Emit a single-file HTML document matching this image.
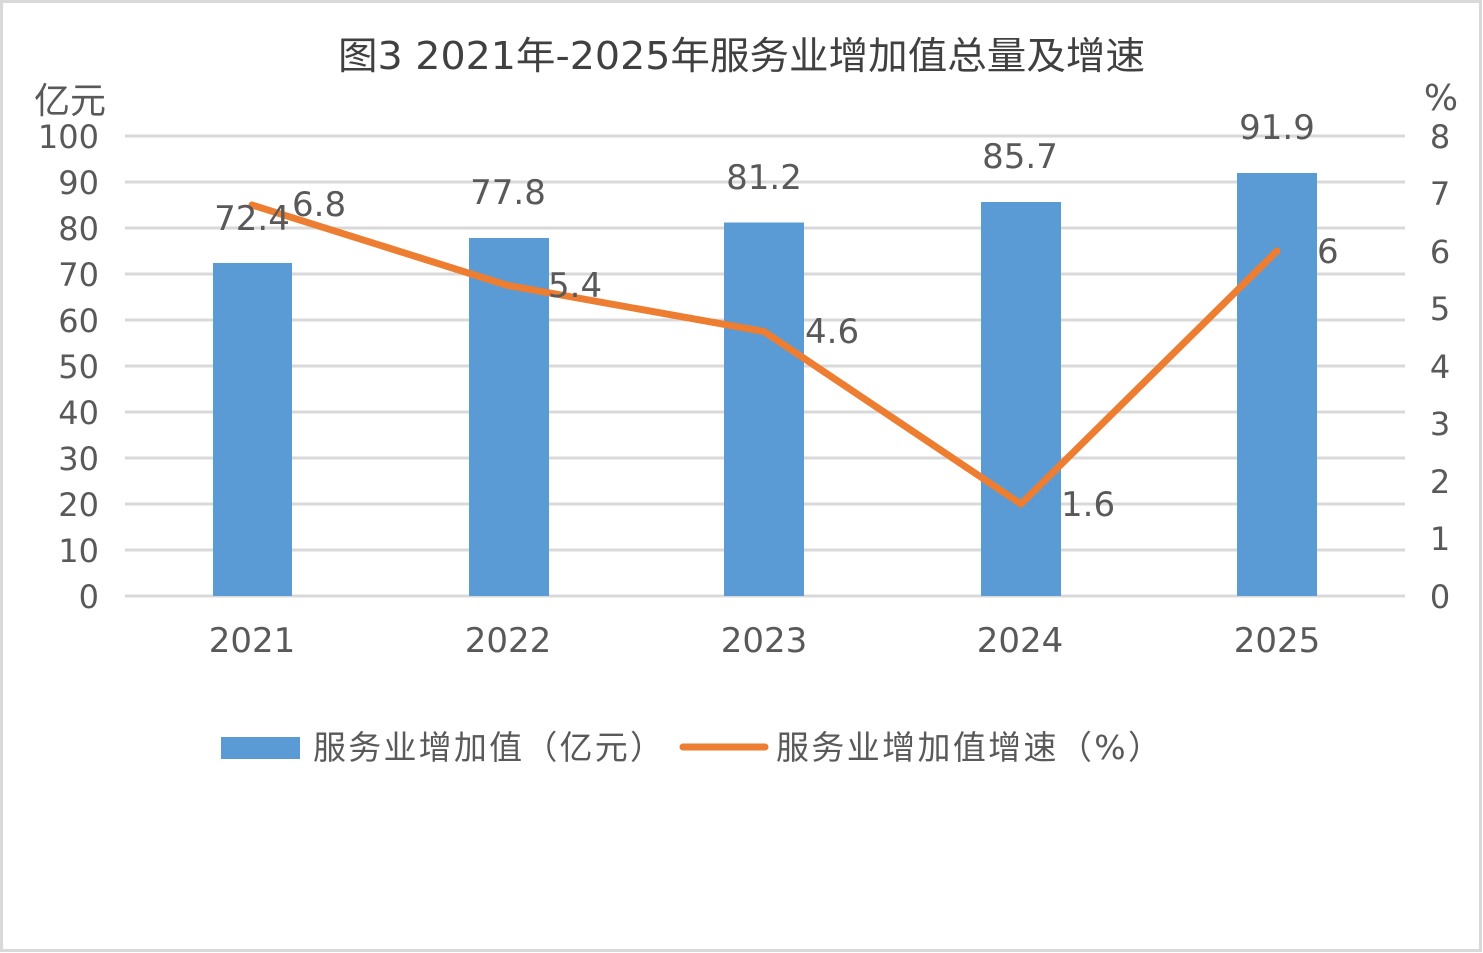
<!DOCTYPE html>
<html><head><meta charset="utf-8"><style>
html,body{margin:0;padding:0;background:#fff}
svg{display:block}
text{font-family:"DejaVu Sans","Noto Sans CJK SC",sans-serif;fill:#595959}
</style></head><body>
<svg width="1483" height="953" viewBox="0 0 1483 953">
<rect x="1.5" y="1.5" width="1479" height="949" fill="#fff" stroke="#d9d9d9" stroke-width="3"/>
<text x="338" y="69" font-size="38" textLength="807" lengthAdjust="spacingAndGlyphs" style="fill:#404040">图3 2021年-2025年服务业增加值总量及增速</text>
<text x="70" y="113" text-anchor="middle" font-size="36">亿元</text>
<text x="1441" y="110" text-anchor="middle" font-size="36">%</text>
<g stroke="#d9d9d9" stroke-width="3">
<line x1="125" x2="1405" y1="136" y2="136"/><line x1="125" x2="1405" y1="182" y2="182"/>
<line x1="125" x2="1405" y1="228" y2="228"/><line x1="125" x2="1405" y1="274" y2="274"/>
<line x1="125" x2="1405" y1="320" y2="320"/><line x1="125" x2="1405" y1="366" y2="366"/>
<line x1="125" x2="1405" y1="412" y2="412"/><line x1="125" x2="1405" y1="458" y2="458"/>
<line x1="125" x2="1405" y1="504" y2="504"/><line x1="125" x2="1405" y1="550" y2="550"/>
<line x1="125" x2="1405" y1="596" y2="596"/>
</g>
<g font-size="32" text-anchor="end">
<text x="99" y="148">100</text><text x="99" y="194">90</text><text x="99" y="240">80</text>
<text x="99" y="286">70</text><text x="99" y="332">60</text><text x="99" y="378">50</text>
<text x="99" y="424">40</text><text x="99" y="470">30</text><text x="99" y="516">20</text>
<text x="99" y="562">10</text><text x="99" y="608">0</text>
</g>
<g font-size="32" text-anchor="middle">
<text x="1440" y="148">8</text><text x="1440" y="205">7</text><text x="1440" y="263">6</text>
<text x="1440" y="320">5</text><text x="1440" y="378">4</text><text x="1440" y="435">3</text>
<text x="1440" y="493">2</text><text x="1440" y="550">1</text><text x="1440" y="608">0</text>
</g>
<g fill="#5b9bd5">
<rect x="213" y="263" width="79" height="333"/>
<rect x="469" y="238" width="80" height="358"/>
<rect x="724" y="222.5" width="80" height="373.5"/>
<rect x="981" y="202" width="80" height="394"/>
<rect x="1237" y="173" width="80" height="423"/>
</g>
<polyline points="252,205 508,285.5 764,331.5 1021,504 1277,251" fill="none" stroke="#ed7d31" stroke-width="7" stroke-linejoin="round" stroke-linecap="round"/>
<g font-size="34" text-anchor="middle">
<text x="252" y="230">72.4</text><text x="508" y="204">77.8</text><text x="764" y="189">81.2</text>
<text x="1020" y="168">85.7</text><text x="1277" y="139">91.9</text>
</g>
<g font-size="34">
<text x="292" y="216">6.8</text><text x="548" y="297">5.4</text><text x="805" y="343">4.6</text>
<text x="1061" y="516">1.6</text><text x="1317" y="263">6</text>
</g>
<g font-size="34" text-anchor="middle">
<text x="252" y="652">2021</text><text x="508" y="652">2022</text><text x="764" y="652">2023</text>
<text x="1020" y="652">2024</text><text x="1277" y="652">2025</text>
</g>
<rect x="221" y="737" width="79" height="22" fill="#5b9bd5"/>
<text x="313" y="759" font-size="33" textLength="350" lengthAdjust="spacing">服务业增加值（亿元）</text>
<line x1="683" x2="765" y1="747" y2="747" stroke="#ed7d31" stroke-width="7" stroke-linecap="round"/>
<text x="776" y="759" font-size="33" textLength="385" lengthAdjust="spacing">服务业增加值增速（%）</text>
</svg>
</body></html>
